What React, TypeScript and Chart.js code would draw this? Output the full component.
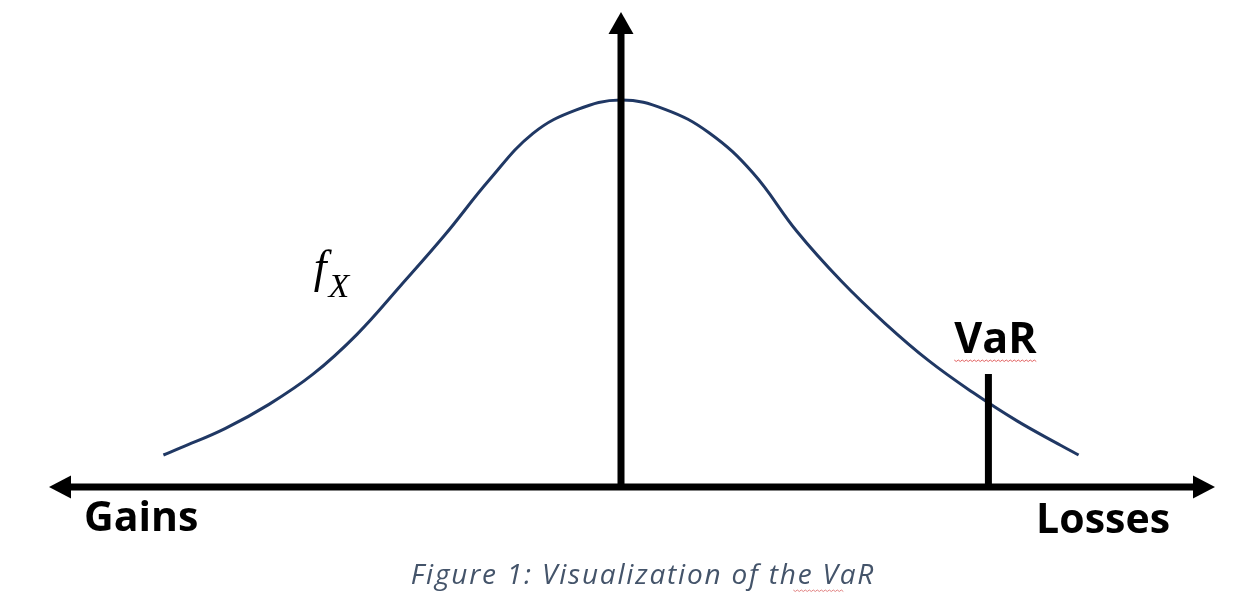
import React, { useEffect, useRef } from "react";
import { Chart, registerables } from "chart.js";

Chart.register(...registerables);

// Density curve: x in standard deviations from the centre, y = density
const curveX = [-2.08, -2.0, -1.8, -1.6, -1.4, -1.2, -1.0, -0.8, -0.6, -0.4, -0.2, 0, 0.2, 0.4, 0.6, 0.8, 1.0, 1.2, 1.4, 1.6, 1.8, 2.0, 2.08];
const curveY = [0.033, 0.0405, 0.0602, 0.0852, 0.1163, 0.1574, 0.208, 0.26, 0.3162, 0.3646, 0.3891, 0.399, 0.3894, 0.3652, 0.3237, 0.2634, 0.2126, 0.1688, 0.13, 0.0974, 0.0682, 0.0428, 0.033];

// Axis extents and VaR marker (data units)
const axisX = [-2.6, 2.7];
const axisYTop = [0.4897];
const varX = [1.67];
const varTop = [0.1165];

// Texts
const sideLabels = ["Gains", "Losses"];
const varLabel = "VaR";
const densityLabel = ["f", "X"];
const caption = "Figure 1: Visualization of the VaR";

const annotate = {
  id: "annotate",
  afterDatasetsDraw(chart: any) {
    const { ctx } = chart;
    const xs = chart.scales.x;
    const ys = chart.scales.y;
    const px = (v: number) => xs.getPixelForValue(v);
    const py = (v: number) => ys.getPixelForValue(v);
    const y0 = py(0);
    const xl = px(axisX[0]);
    const xr = px(axisX[1]);
    const xc = px(0);
    const yt = py(axisYTop[0]);
    const head = 22;
    const half = 11.5;

    ctx.save();
    ctx.strokeStyle = "#000";
    ctx.fillStyle = "#000";
    ctx.lineWidth = 7;
    ctx.lineCap = "butt";

    // horizontal axis
    ctx.beginPath();
    ctx.moveTo(xl + head - 2, y0);
    ctx.lineTo(xr - head + 2, y0);
    ctx.stroke();
    ctx.beginPath();
    ctx.moveTo(xl, y0);
    ctx.lineTo(xl + head, y0 - half);
    ctx.lineTo(xl + head, y0 + half);
    ctx.closePath();
    ctx.fill();
    ctx.beginPath();
    ctx.moveTo(xr, y0);
    ctx.lineTo(xr - head, y0 - half);
    ctx.lineTo(xr - head, y0 + half);
    ctx.closePath();
    ctx.fill();

    // vertical axis
    ctx.beginPath();
    ctx.moveTo(xc, y0 + 3);
    ctx.lineTo(xc, yt + head - 2);
    ctx.stroke();
    ctx.beginPath();
    ctx.moveTo(xc, yt);
    ctx.lineTo(xc - half - 1, yt + head);
    ctx.lineTo(xc + half + 1, yt + head);
    ctx.closePath();
    ctx.fill();

    // VaR marker
    const xv = px(varX[0]);
    ctx.beginPath();
    ctx.moveTo(xv, y0);
    ctx.lineTo(xv, py(varTop[0]));
    ctx.stroke();

    // labels
    ctx.textBaseline = "alphabetic";
    ctx.font = 'bold 41px "Open Sans"';
    ctx.textAlign = "left";
    ctx.fillText(sideLabels[0], xl + 35, y0 + 44);
    ctx.textAlign = "right";
    ctx.fillText(sideLabels[1], xr - 45, y0 + 46);
    ctx.font = 'bold 43px "Open Sans"';
    ctx.textAlign = "center";
    ctx.fillText(varLabel, xv + 7, py(varTop[0]) - 21);

    // spell-check squiggle under VaR
    const vw = ctx.measureText(varLabel).width;
    ctx.strokeStyle = "#e06060";
    ctx.lineWidth = 1;
    ctx.beginPath();
    const sy = py(varTop[0]) - 14;
    for (let i = 0; i <= vw; i += 2) {
      const xx = xv + 7 - vw / 2 + i;
      const yy = sy + (i % 4 === 0 ? 0 : 1.5);
      if (i === 0) ctx.moveTo(xx, yy);
      else ctx.lineTo(xx, yy);
    }
    ctx.stroke();

    // f_X
    ctx.fillStyle = "#000";
    ctx.textAlign = "left";
    const fx = px(-1.397);
    const fy = py(0.211);
    ctx.font = 'italic 46px "Liberation Serif"';
    ctx.fillText(densityLabel[0], fx, fy);
    const fw = ctx.measureText(densityLabel[0]).width;
    ctx.font = 'italic 34px "Liberation Serif"';
    ctx.fillText(densityLabel[1], fx + fw + 2, fy + 15);

    // caption
    ctx.fillStyle = "#44546A";
    ctx.textAlign = "center";
    ctx.font = 'italic 28px "Open Sans"';
    try {
      (ctx as any).letterSpacing = "1.8px";
    } catch (e) {}
    ctx.fillText(caption, xc + 22, y0 + 97);
    try {
      (ctx as any).letterSpacing = "0px";
    } catch (e) {}

    // spell-check squiggle under caption's VaR
    const cw = ctx.measureText(caption).width;
    const vw2 = ctx.measureText(varLabel).width;
    ctx.strokeStyle = "#e08080";
    ctx.lineWidth = 1;
    ctx.beginPath();
    const cy = y0 + 103;
    const cx0 = xc + 22 + cw / 2 - vw2 - 4;
    for (let i = 0; i <= vw2 + 4; i += 2) {
      const xx = cx0 + i;
      const yy = cy + (i % 4 === 0 ? 0 : 1.5);
      if (i === 0) ctx.moveTo(xx, yy);
      else ctx.lineTo(xx, yy);
    }
    ctx.stroke();

    ctx.restore();
  },
};

export default function App() {
  const ref = useRef<HTMLCanvasElement | null>(null);
  useEffect(() => {
    if (!ref.current) return;
    const chart = new Chart(ref.current, {
      type: "line",
      data: {
        datasets: [
          {
            data: curveX.map((x, i) => ({ x, y: curveY[i] })),
            borderColor: "#203864",
            borderWidth: 3,
            pointRadius: 0,
            fill: false,
            tension: 0.4,
          },
        ],
      },
      options: {
        animation: false,
        responsive: false,
        maintainAspectRatio: false,
        devicePixelRatio: 1,
        layout: { padding: 0 },
        plugins: { legend: { display: false }, tooltip: { enabled: false }, title: { display: false } },
        scales: {
          x: { type: "linear", display: false, min: -2.8227, max: 2.9045 },
          y: { type: "linear", display: false, min: -0.1196, max: 0.5021 },
        },
      },
      plugins: [annotate],
    } as any);
    return () => chart.destroy();
  }, []);
  return (
    <div style={{ position: "absolute", left: 0, top: 0, width: 1260, height: 603, background: "#fff" }}>
      <canvas ref={ref} width={1260} height={603} style={{ display: "block", width: 1260, height: 603 }} />
    </div>
  );
}
